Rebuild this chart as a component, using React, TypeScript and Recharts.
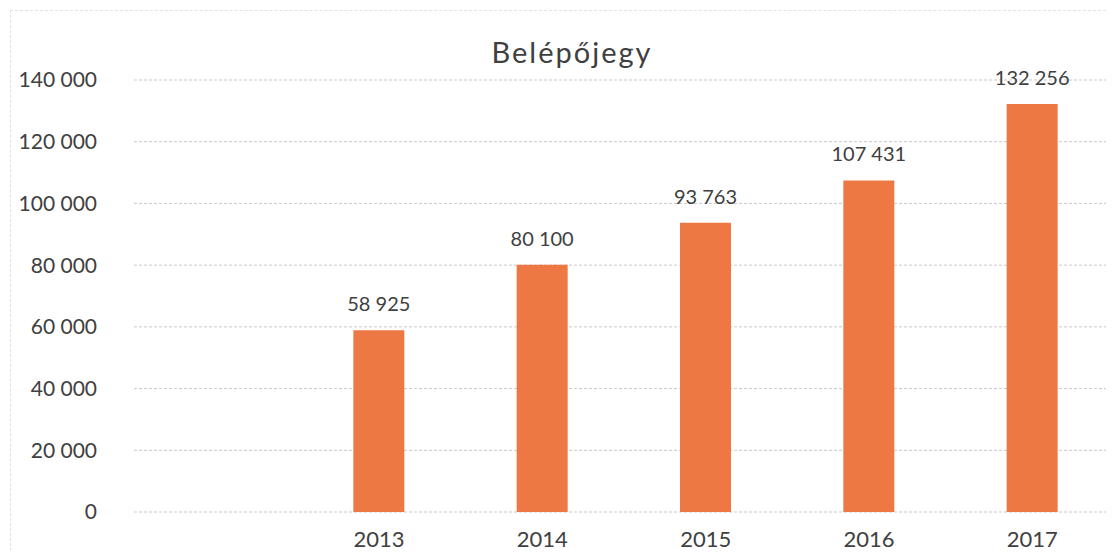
import { BarChart, Bar, XAxis, YAxis, CartesianGrid, LabelList } from 'recharts'

const years = ['', '2013', '2014', '2015', '2016', '2017']
const tickets = [null, 58925, 80100, 93763, 107431, 132256]
const yTicks = [0, 20000, 40000, 60000, 80000, 100000, 120000, 140000]

const data = years.map((year, i) => ({ year, value: tickets[i] }))

const fmt = (v: number | string | null | undefined) =>
  v == null ? '' : String(v).replace(/\B(?=(\d{3})+(?!\d))/g, ' ')

const font = 'Lato, "Open Sans", sans-serif'
const textColor = '#404040'

// own label so the numbers don't wrap to the bar width
const renderLabel = (props: any) => {
  const { x, y, width, value } = props
  if (value == null) return null
  return (
    <text
      x={Number(x) + Number(width) / 2}
      y={Number(y) - 19}
      textAnchor="middle"
      fill={textColor}
      fontSize={20}
      fontFamily={font}
    >
      {fmt(value)}
    </text>
  )
}

export default function App() {
  return (
    <div style={{ position: 'relative', width: 1114, height: 558, margin: -8, background: '#fff', fontFamily: font }}>
      <div
        style={{
          position: 'absolute',
          left: 10,
          top: 10,
          width: 1120,
          height: 560,
          borderTop: '1px dashed #e2e2e2',
          borderLeft: '1px dashed #e2e2e2'
        }}
      />
      <div
        style={{
          position: 'absolute',
          left: 372,
          width: 400,
          top: 34,
          textAlign: 'center',
          fontSize: 29,
          lineHeight: '36px',
          color: textColor,
          letterSpacing: 2
        }}
      >
        Belépőjegy
      </div>
      <div style={{ position: 'absolute', left: 0, top: 0 }}>
        <BarChart
          width={1114}
          height={558}
          data={data}
          margin={{ top: 80, right: 0, left: 0, bottom: 0 }}
        >
          <CartesianGrid vertical={false} stroke="#c9c9c9" strokeDasharray="3 2" />
          <XAxis
            dataKey="year"
            height={46}
            axisLine={false}
            tickLine={false}
            tickSize={0}
            tickMargin={19}
            tick={{ fill: textColor, fontSize: 22, fontFamily: font }}
            interval={0}
          />
          <YAxis
            width={134}
            domain={[0, 140000]}
            ticks={yTicks}
            axisLine={false}
            tickLine={false}
            tickSize={0}
            tickMargin={37}
            tickFormatter={fmt}
            tick={{ fill: textColor, fontSize: 21, fontFamily: font }}
          />
          <Bar dataKey="value" fill="#EE7843" barSize={51} isAnimationActive={false}>
            <LabelList dataKey="value" content={renderLabel} />
          </Bar>
        </BarChart>
      </div>
    </div>
  )
}
